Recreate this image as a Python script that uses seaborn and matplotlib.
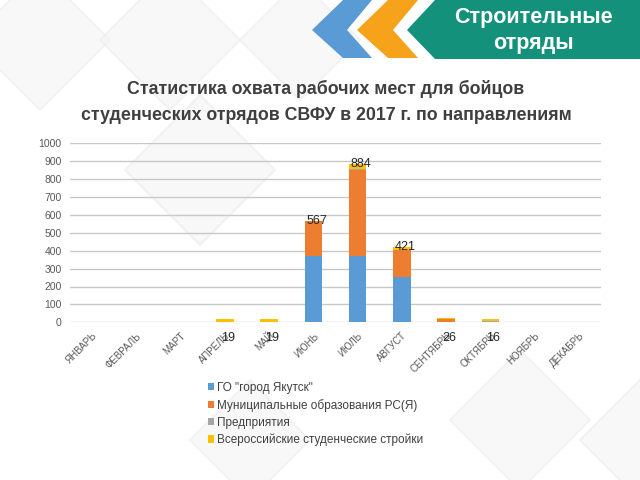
import matplotlib
matplotlib.use("Agg")
import matplotlib.pyplot as plt
from matplotlib.patches import Polygon, Patch
import seaborn as sns
import numpy as np
import pandas as pd

months = ["ЯНВАРЬ", "ФЕВРАЛЬ", "МАРТ", "АПРЕЛЬ", "МАЙ", "ИЮНЬ", "ИЮЛЬ",
          "АВГУСТ", "СЕНТЯБРЬ", "ОКТЯБРЬ", "НОЯБРЬ", "ДЕКАБРЬ"]
gorod = [0, 0, 0, 0, 0, 370, 370, 255, 0, 0, 0, 0]
municip = [0, 0, 0, 0, 0, 197, 480, 150, 16, 0, 0, 0]
predpr = [0, 0, 0, 0, 0, 0, 5, 0, 5, 8, 0, 0]
stroyki = [0, 0, 0, 19, 19, 0, 29, 16, 5, 8, 0, 0]
series_names = ['ГО "город Якутск"', "Муниципальные образования РС(Я)",
                "Предприятия", "Всероссийские студенческие стройки"]
colors = ["#5B9BD5", "#ED7D31", "#A5A5A5", "#FFC000"]
yticks = list(range(0, 1001, 100))

sns.set_theme(style="white")
plt.rcParams["font.family"] = ["Liberation Sans", "DejaVu Sans"]

fig = plt.figure(figsize=(6.4, 4.8), dpi=100)
fig.patch.set_facecolor("white")

# faint background diamonds
bg = fig.add_axes([0, 0, 1, 1], zorder=-5)
bg.set_xlim(0, 640); bg.set_ylim(480, 0); bg.axis("off")
for cx, cy, r in [(40, 40, 70), (170, 40, 70), (300, 40, 60), (200, 170, 75),
                  (250, 440, 60), (520, 420, 70), (640, 440, 60)]:
    bg.add_patch(Polygon([(cx, cy - r), (cx + r, cy), (cx, cy + r), (cx - r, cy)],
                         closed=True, facecolor="#f4f4f4", edgecolor="#ececec",
                         linewidth=1.5, alpha=0.6))

# header banner
bg.add_patch(Polygon([(343, 0), (372, 0), (347, 30), (372, 58), (343, 58), (312, 30)],
                     closed=True, facecolor="#5B9BD5", edgecolor="none"))
bg.add_patch(Polygon([(388, 0), (418, 0), (393, 30), (418, 58), (388, 58), (357, 30)],
                     closed=True, facecolor="#F7A21B", edgecolor="none"))
bg.add_patch(Polygon([(435, 0), (640, 0), (640, 59), (435, 59), (407, 30)],
                     closed=True, facecolor="#14917A", edgecolor="none"))
bg.text(533, 18, "Строительные", color="white", fontsize=15.5, fontweight="bold",
        ha="center", va="center")
bg.text(533, 44, "отряды", color="white", fontsize=15.5, fontweight="bold",
        ha="center", va="center")

# title
bg.text(326, 89, "Статистика охвата рабочих мест для бойцов", color="#3f3f3f",
        fontsize=12.8, fontweight="bold", ha="center", va="center")
bg.text(326, 115, "студенческих отрядов СВФУ в 2017 г. по направлениям", color="#3f3f3f",
        fontsize=12.8, fontweight="bold", ha="center", va="center")

# chart
ax = fig.add_axes([70 / 640, 1 - 322.3 / 480, 531 / 640, 179 / 480])
ax.patch.set_alpha(0)
df = pd.DataFrame({"month": months, "g": gorod, "m": municip, "p": predpr, "s": stroyki})
cum = [df["g"], df["g"] + df["m"], df["g"] + df["m"] + df["p"],
       df["g"] + df["m"] + df["p"] + df["s"]]
for vals, col in reversed(list(zip(cum, colors))):
    sns.barplot(x=df["month"], y=vals, order=months, color=col, saturation=1,
                width=0.39, ax=ax, zorder=3, linewidth=0)

ax.set_xlim(-0.5, 11.5)
ax.set_ylim(0, 1000)
ax.set_yticks(yticks)
ax.set_yticklabels([str(t) for t in yticks], fontsize=7.5, color="#595959")
ax.yaxis.grid(True, color="#c8c8c8", linewidth=1)
ax.set_axisbelow(True)
for s in ax.spines.values():
    s.set_visible(False)
ax.tick_params(axis="both", length=0, pad=6)
ax.set_xticks(range(len(months)))
ax.set_xticklabels(months, rotation=45, ha="right", rotation_mode="anchor",
                   fontsize=7, color="#595959")
ax.set_xlabel(""); ax.set_ylabel("")

totals = cum[3]
for i, t in enumerate(totals):
    if t <= 0:
        continue
    y = t if t > 100 else -88
    ax.text(i + 0.07, y, str(int(t)), fontsize=9, color="#262626", ha="center",
            va="center", clip_on=False, zorder=5)

handles = [Patch(facecolor=c, edgecolor="none") for c in colors]
fig.legend(handles, series_names, loc="upper left",
           bbox_to_anchor=(202 / 640, 1 - 376 / 480), frameon=False,
           fontsize=8.5, handlelength=0.55, handleheight=0.55, handletextpad=0.25,
           labelspacing=0.42, labelcolor="#404040", borderpad=0)

fig.savefig("out.png", dpi=100, facecolor="white")
